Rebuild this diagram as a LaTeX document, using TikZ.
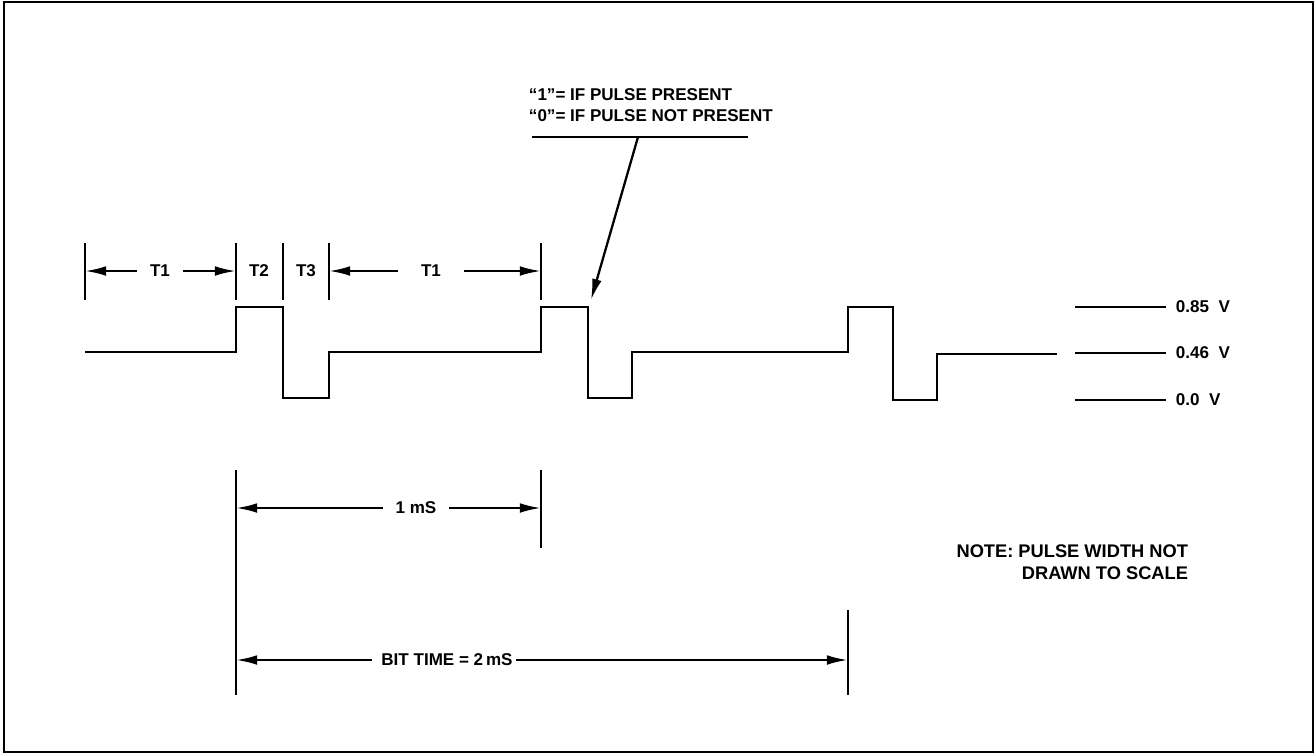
\documentclass[tikz,border=0pt]{standalone}
\usepackage{fontspec}
\setmainfont{Liberation Sans}
\usetikzlibrary{arrows.meta}
\begin{document}
\begin{tikzpicture}[x=0.02cm,y=-0.02cm,
  line width=1.4pt,
  wave/.style={line width=1.6pt, line join=miter},
  tick/.style={line width=1.3pt},
  dim/.style={line width=1.3pt,-{Latex[length=12pt,width=5.5pt]}},
  lbl/.style={font=\fontsize{9.7}{11.5}\selectfont\bfseries, inner sep=1pt},
  vlbl/.style={font=\fontsize{9.7}{11.5}\selectfont\bfseries, inner sep=1pt, anchor=west}]
\useasboundingbox (0,0) rectangle (1316,755);
\draw[line width=1.5pt] (4,2) rectangle (1313,752);

% header text
\node[lbl, anchor=south west] (h1) at (526,104) {``1''= IF PULSE PRESENT};
\node[lbl, anchor=south west] (h2) at (526,125) {``0''= IF PULSE NOT PRESENT};
\coordinate (ul1) at (532,137);
\coordinate (ul2) at (748,137);
\draw (ul1) -- (ul2);
\coordinate (pa) at (638,137);
\coordinate (pt) at (591,300);
\draw[dim] (pa) -- (pt);

% timing ticks top
\foreach \n/\x in {a/85,b/236,c/283,d/329,e/541}{
  \coordinate (t\n1) at (\x,243);
  \coordinate (t\n2) at (\x,300);
  \draw[tick] (t\n1) -- (t\n2);
}
\node[lbl] (T1a) at (160,271) {T1};
\node[lbl] (T2) at (259,271) {T2};
\node[lbl] (T3) at (306,271) {T3};
\node[lbl] (T1b) at (431,271) {T1};
\coordinate (ta) at (85,271);
\coordinate (tb) at (236,271);
\coordinate (td) at (329,271);
\coordinate (te) at (541,271);
\draw[dim] (T1a.west) ++(-10,0) -- (ta);
\draw[dim] (T1a.east) ++(10,0) -- (tb);
\draw[dim] (T1b.west) ++(-20,0) -- (td);
\draw[dim] (T1b.east) ++(20,0) -- (te);

% waveform
\draw[wave] (85,352) -- (236,352) -- (236,307) -- (283,307) -- (283,398) -- (329,398) -- (329,352)
  -- (541,352) -- (541,307) -- (588,307) -- (588,398) -- (632,398) -- (632,352)
  -- (848,352) -- (848,307) -- (893,307) -- (893,400) -- (937,400) -- (937,354) -- (1057,354);

% voltage levels
\foreach \y/\t/\n in {307/0.85\ \ V/va,353/0.46\ \ V/vb,400/0.0\ \ V/vc}{
  \coordinate (\n1) at (1075,\y);
  \coordinate (\n2) at (1166,\y);
  \draw (\n1) -- (\n2);
  \node[vlbl] (\n) at (1173,\y) {\t};
}

% 1 mS
\coordinate (m1) at (236,470);
\coordinate (m2) at (236,695);
\coordinate (m3) at (541,470);
\coordinate (m4) at (541,548);
\draw[tick] (m1) -- (m2);
\draw[tick] (m3) -- (m4);
\node[lbl] (ms) at (416,508) {1 mS};
\coordinate (ma) at (236,508);
\coordinate (mb) at (541,508);
\draw[dim] (ms.west) ++(-10,0) -- (ma);
\draw[dim] (ms.east) ++(10,0) -- (mb);

% bit time
\coordinate (b3) at (848,610);
\coordinate (b4) at (848,695);
\draw[tick] (b3) -- (b4);
\node[lbl] (bt) at (447,660) {BIT TIME = 2\,mS};
\coordinate (ba) at (236,660);
\coordinate (bb) at (848,660);
\draw[dim] (bt.west) ++(-6,0) -- (ba);
\draw[dim] (bt.east) -- (bb);

% note
\node[lbl, anchor=north east, align=right, font=\fontsize{10.4}{12.5}\selectfont\bfseries] (note) at (1191,542) {NOTE: PULSE WIDTH NOT\\DRAWN TO SCALE};
\end{tikzpicture}
\end{document}
